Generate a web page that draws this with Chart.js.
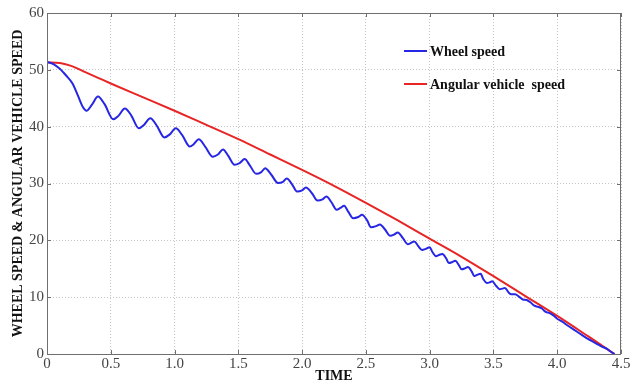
<!DOCTYPE html>
<html>
<head>
<meta charset="utf-8">
<script src="https://cdn.jsdelivr.net/npm/chart.js@4/dist/chart.umd.min.js"></script>
<style>
  body { margin: 0; background: #fff; }
  #wrap { width: 637px; height: 385px; position: relative; }
</style>
</head>
<body>
<div id="wrap"><canvas id="speed-chart"></canvas></div>
<script>
// values
const wheelTime = [
  0.00, 0.05, 0.10, 0.15, 0.20, 0.24, 0.28, 0.31, 0.35, 0.40, 0.45, 0.52, 0.56, 0.61, 0.66, 0.72,
  0.76, 0.81, 0.86, 0.92, 0.96, 1.01, 1.06, 1.12, 1.15, 1.19, 1.24, 1.30, 1.34, 1.38, 1.42, 1.47,
  1.51, 1.55, 1.59, 1.64, 1.68, 1.71, 1.76, 1.81, 1.85, 1.88, 1.92, 1.96, 2.00, 2.03, 2.08, 2.12,
  2.16, 2.19, 2.23, 2.27, 2.30, 2.33, 2.36, 2.40, 2.44, 2.47, 2.51, 2.54, 2.58, 2.61, 2.65, 2.69,
  2.72, 2.75, 2.79, 2.83, 2.85, 2.88, 2.91, 2.94, 2.97, 3.00, 3.02, 3.05, 3.07, 3.10, 3.13, 3.15,
  3.18, 3.20, 3.23, 3.25, 3.28, 3.30, 3.33, 3.35, 3.37, 3.40, 3.42, 3.45, 3.47, 3.49, 3.52, 3.55,
  3.57, 3.59, 3.62, 3.64, 3.67, 3.70, 3.73, 3.76, 3.79, 3.82, 3.85, 3.88, 3.91, 3.94, 3.97, 4.00,
  4.04, 4.07, 4.11, 4.15, 4.19, 4.23, 4.27, 4.31, 4.35, 4.39, 4.42, 4.45
];
const wheelSpeed = [
  51.4, 51.0, 50.2, 49.0, 47.6, 45.6, 43.5, 42.8, 43.8, 45.3, 44.0, 41.3, 41.9, 43.2, 42.0, 39.7,
  40.3, 41.5, 40.2, 38.1, 38.6, 39.7, 38.5, 36.5, 36.9, 37.8, 36.5, 34.7, 35.1, 36.0, 34.9, 33.3,
  33.6, 34.3, 33.2, 31.7, 32.0, 32.7, 31.5, 30.1, 30.3, 30.9, 29.9, 28.6, 28.8, 29.3, 28.2, 27.0,
  27.2, 27.7, 26.7, 25.4, 25.7, 26.1, 25.1, 23.9, 24.1, 24.5, 23.5, 22.3, 22.5, 22.8, 21.9, 20.8,
  21.0, 21.4, 20.4, 19.3, 19.5, 19.8, 19.0, 18.3, 18.5, 18.8, 18.0, 17.2, 17.4, 17.6, 16.8, 16.0,
  16.2, 16.4, 15.6, 14.9, 15.1, 15.3, 14.5, 13.7, 13.9, 14.1, 13.2, 12.5, 12.6, 12.8, 12.0, 11.4,
  11.5, 11.6, 10.8, 10.5, 10.5, 10.1, 9.6, 9.5, 9.1, 8.5, 8.3, 8.0, 7.4, 7.2, 6.8, 6.2,
  5.7, 5.2, 4.6, 4.0, 3.4, 2.8, 2.3, 1.8, 1.3, 0.9, 0.4, 0.0
];
const vehicleTime  = [0, 0.1, 0.2, 0.3, 0.4, 0.5, 0.75, 1, 1.25, 1.5, 1.75, 2, 2.25, 2.5, 2.75, 3, 3.25, 3.5, 3.75, 4, 4.25, 4.45];
const vehicleSpeed = [51.3, 51.2, 50.6, 49.6, 48.6, 47.6, 45.2, 42.8, 40.3, 37.8, 35.1, 32.4, 29.6, 26.6, 23.5, 20.3, 17.1, 13.7, 10.2, 6.7, 3.0, 0];

const seriesLabels = ['Wheel speed', 'Angular vehicle  speed'];
const xTicks = [0, 0.5, 1, 1.5, 2, 2.5, 3, 3.5, 4, 4.5];
const yTicks = [0, 10, 20, 30, 40, 50, 60];

const serif = "'Liberation Serif', 'Times New Roman', serif";

function toPoints(xs, ys) {
  return xs.map((x, i) => ({ x: x, y: ys[i] }));
}

// frame with small inward ticks (matlab style) + legend inside the plot
const framePlugin = {
  id: 'frame',
  afterDraw(chart) {
    const { ctx, chartArea: a, scales } = chart;
    ctx.save();
    ctx.strokeStyle = '#6f6f6f';
    ctx.lineWidth = 1;
    ctx.strokeRect(a.left + 0.5, a.top + 0.5, a.right - a.left - 1, a.bottom - a.top);
    ctx.beginPath();
    xTicks.forEach(v => {
      const px = Math.round(scales.x.getPixelForValue(v)) + 0.5;
      ctx.moveTo(px, a.bottom); ctx.lineTo(px, a.bottom - 4);
      ctx.moveTo(px, a.top); ctx.lineTo(px, a.top + 4);
    });
    yTicks.forEach(v => {
      const py = Math.round(scales.y.getPixelForValue(v)) + 0.5;
      ctx.moveTo(a.left, py); ctx.lineTo(a.left + 4, py);
      ctx.moveTo(a.right, py); ctx.lineTo(a.right - 4, py);
    });
    ctx.stroke();

    // legend
    const lx = a.left + 357;
    const ly = [a.top + 38, a.top + 71];
    ctx.font = 'bold 14px ' + serif;
    ctx.textBaseline = 'middle';
    ctx.fillStyle = '#111';
    chart.data.datasets.forEach((ds, i) => {
      ctx.strokeStyle = ds.borderColor;
      ctx.lineWidth = 2;
      ctx.beginPath();
      ctx.moveTo(lx, ly[i]); ctx.lineTo(lx + 23, ly[i]);
      ctx.stroke();
      ctx.fillText(ds.label, lx + 26, ly[i] + 1);
    });
    ctx.restore();
  }
};

const config = {
  type: 'line',
  data: {
    datasets: [
      {
        label: seriesLabels[0],
        data: toPoints(wheelTime, wheelSpeed),
        borderColor: 'rgb(38,38,228)',
        borderWidth: 2,
        pointRadius: 0,
        cubicInterpolationMode: 'monotone'
      },
      {
        label: seriesLabels[1],
        data: toPoints(vehicleTime, vehicleSpeed),
        borderColor: 'rgb(232,36,36)',
        borderWidth: 2,
        pointRadius: 0,
        cubicInterpolationMode: 'monotone'
      }
    ]
  },
  options: {
    responsive: true,
    maintainAspectRatio: false,
    animation: false,
    layout: { padding: { top: 13, right: 16, left: 0, bottom: 0 } },
    plugins: {
      legend: { display: false },
      tooltip: { enabled: false }
    },
    scales: {
      x: {
        type: 'linear',
        min: 0,
        max: 4.5,
        afterBuildTicks: scale => { scale.ticks = xTicks.map(v => ({ value: v })); },
        afterFit: scale => { scale.height = 31; },
        ticks: {
          font: { family: serif, size: 15 },
          color: '#444',
          padding: 1,
          maxRotation: 0
        },
        grid: { color: '#c4c4c4', drawTicks: false },
        border: { display: false, dash: [1, 2] },
        title: {
          display: true,
          text: 'TIME',
          font: { family: serif, size: 14, weight: 'bold' },
          color: '#111',
          padding: { top: 0, bottom: 0 }
        }
      },
      y: {
        min: 0,
        max: 60,
        afterBuildTicks: scale => { scale.ticks = yTicks.map(v => ({ value: v })); },
        afterFit: scale => { scale.width = 47; },
        ticks: {
          font: { family: serif, size: 15 },
          color: '#444',
          padding: 3
        },
        grid: { color: '#c4c4c4', drawTicks: false },
        border: { display: false, dash: [1, 2] },
        title: {
          display: true,
          text: 'WHEEL SPEED & ANGULAR VEHICLE SPEED',
          font: { family: serif, size: 14, weight: 'bold' },
          color: '#111',
          padding: { top: 10, bottom: 0 }
        }
      }
    }
  },
  plugins: [framePlugin]
};

const speedChart = new Chart(document.getElementById('speed-chart'), config);
</script>
</body>
</html>
